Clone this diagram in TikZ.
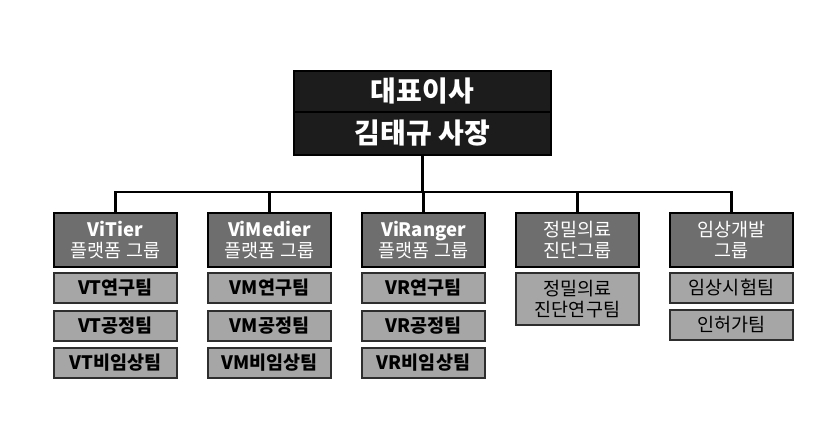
\documentclass[tikz,border=0pt]{standalone}
\usepackage{fontspec}
\setmainfont{Noto Sans CJK KR}
\begin{document}
\begin{tikzpicture}[x=1pt,y=-1pt,
  ceobox/.style={draw=black,line width=2pt,fill=ceofill,text=white,font=\fontsize{28}{32}\selectfont\bfseries,minimum width=257pt,inner sep=0pt,anchor=center},
  grpbox/.style={draw=black,line width=1.6pt,fill=grpfill,text=white,font=\fontsize{18.5}{21}\selectfont,minimum width=123pt,minimum height=54pt,inner sep=0pt,align=center},
  teambox/.style={draw=teamline,line width=1.2pt,fill=teamfill,text=black,font=\fontsize{18.5}{21}\selectfont\bfseries,minimum width=123pt,minimum height=30pt,inner sep=0pt,align=center},
  teamreg/.style={teambox,font=\fontsize{18.5}{21}\selectfont},
  conn/.style={line width=2.6pt,black}]
\definecolor{ceofill}{HTML}{1C1C1C}
\definecolor{grpfill}{HTML}{6E6E6E}
\definecolor{teamfill}{HTML}{A6A6A6}
\definecolor{teamline}{HTML}{2E2E2E}
\useasboundingbox (0,0) rectangle (825,422);
% CEO
\node[ceobox,minimum height=41pt] (ceo1) at (422.5,91.5) {대표이사};
\node[ceobox,minimum height=43pt] (ceo2) at (422.5,133.5) {김태규 사장};
\coordinate (bus) at (422.5,192);
% groups
\node[grpbox] (g1) at (115.5,240) {\textbf{ViTier}\\플랫폼 그룹};
\node[grpbox] (g2) at (269.5,240) {\textbf{ViMedier}\\플랫폼 그룹};
\node[grpbox] (g3) at (423.5,240) {\textbf{ViRanger}\\플랫폼 그룹};
\node[grpbox] (g4) at (577.5,240) {정밀의료\\진단그룹};
\node[grpbox] (g5) at (731.5,240) {임상개발\\그룹};
% connectors
\draw[conn] (ceo2.south) -- (bus);
\draw[conn] (g1.north) -- (g1.north |- bus) -- (g5.north |- bus) -- (g5.north);
\draw[conn] (g2.north) -- (g2.north |- bus);
\draw[conn] (g3.north) -- (g3.north |- bus);
\draw[conn] (g4.north) -- (g4.north |- bus);
% teams
\node[teambox] (t11) at (115.5,288) {VT연구팀};
\node[teambox] (t12) at (115.5,326) {VT공정팀};
\node[teambox] (t13) at (115.5,363) {VT비임상팀};
\node[teambox] (t21) at (269.5,288) {VM연구팀};
\node[teambox] (t22) at (269.5,326) {VM공정팀};
\node[teambox] (t23) at (269.5,363) {VM비임상팀};
\node[teambox] (t31) at (423.5,288) {VR연구팀};
\node[teambox] (t32) at (423.5,326) {VR공정팀};
\node[teambox] (t33) at (423.5,363) {VR비임상팀};
\node[teamreg,minimum height=52pt] (t41) at (577.5,299) {정밀의료\\진단연구팀};
\node[teamreg] (t51) at (731.5,288) {임상시험팀};
\node[teamreg] (t52) at (731.5,325) {인허가팀};
\end{tikzpicture}
\end{document}
